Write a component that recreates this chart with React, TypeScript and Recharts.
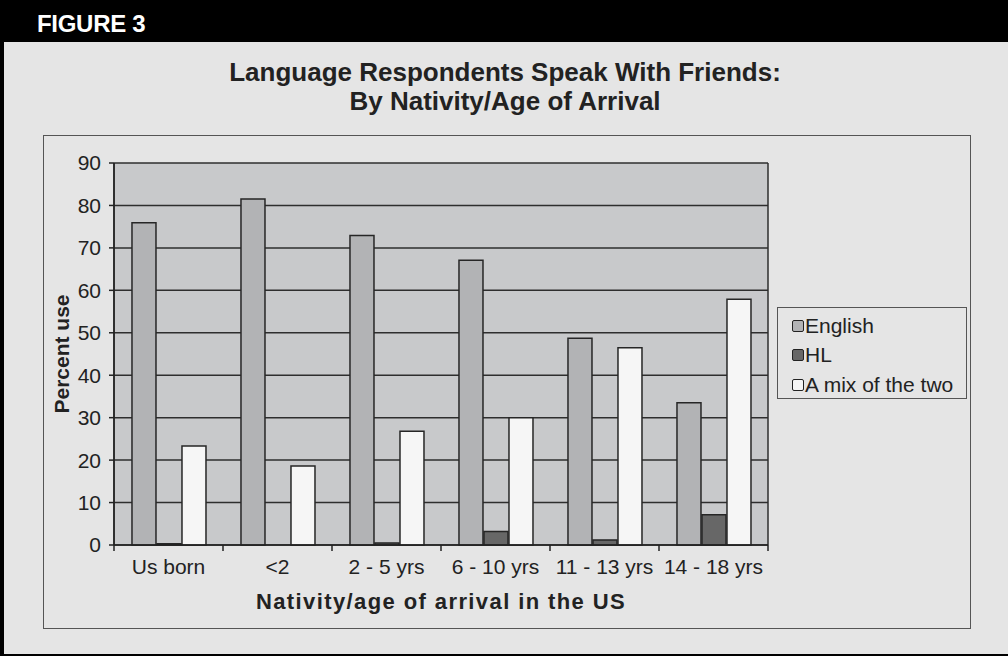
import { BarChart, Bar, XAxis, YAxis, CartesianGrid, Legend } from 'recharts';

const categories = ['Us born', '<2', '2 - 5 yrs', '6 - 10 yrs', '11 - 13 yrs', '14 - 18 yrs'];
const english = [75.9, 81.5, 72.9, 67.1, 48.7, 33.5];
const hl = [0.3, 0, 0.5, 3.2, 1.2, 7.1];
const mix = [23.3, 18.6, 26.8, 30, 46.5, 57.9];
const yTicks = [0, 10, 20, 30, 40, 50, 60, 70, 80, 90];

const series = [
    { key: 'english', name: 'English', fill: '#b2b3b5' },
    { key: 'hl', name: 'HL', fill: '#676767' },
    { key: 'mix', name: 'A mix of the two', fill: '#f6f6f6' },
];

const data = categories.map((c, i) => ({ cat: c, english: english[i], hl: hl[i], mix: mix[i] }));

const FONT = '"Liberation Sans", Arial, Helvetica, sans-serif';
const INK = '#222';

// plot box (used only for the boundary tick marks)
const PLOT_LEFT = 114;
const PLOT_RIGHT = 768;
const PLOT_BOTTOM = 545;
const BAND = (PLOT_RIGHT - PLOT_LEFT) / categories.length;

const XTick = ({ x, y, payload, index }: any) => {
    const left = x - BAND / 2;
    return (
        <g>
            <line x1={left} x2={left} y1={PLOT_BOTTOM} y2={PLOT_BOTTOM + 6} stroke={INK} strokeWidth={1.5} />
            {index === categories.length - 1 && (
                <line x1={x + BAND / 2} x2={x + BAND / 2} y1={PLOT_BOTTOM} y2={PLOT_BOTTOM + 6} stroke={INK} strokeWidth={1.5} />
            )}
            <text x={x} y={y} dy="0.71em" textAnchor="middle" fill={INK} fontSize={21} fontFamily={FONT}>
                {payload.value}
            </text>
        </g>
    );
};

const renderLegend = () => (
    <div style={{
        width: 190, height: 92, boxSizing: 'border-box', border: '1.5px solid #555',
        padding: '3px 0 0 14px', fontFamily: FONT, fontSize: 21, color: INK,
    }}>
        {series.map(s => (
            <div key={s.key} style={{ display: 'flex', alignItems: 'center', height: 29.5 }}>
                <span style={{
                    display: 'inline-block', width: 10, height: 10, background: s.fill,
                    border: '1.5px solid #222', borderRadius: 2, marginRight: 1,
                }} />
                <span>{s.name}</span>
            </div>
        ))}
    </div>
);

export default function App() {
    return (
        <div style={{ position: 'fixed', left: 0, top: 0, width: 1008, height: 656, background: '#e5e5e5', overflow: 'hidden' }}>
            <div style={{ position: 'absolute', left: 0, top: 0, width: 1008, height: 42, background: '#000' }}>
                <div style={{
                    position: 'absolute', left: 37, top: 11, color: '#fff', fontFamily: FONT,
                    fontWeight: 700, fontSize: 24, letterSpacing: -0.3, lineHeight: '26px',
                }}>FIGURE 3</div>
            </div>
            <div style={{ position: 'absolute', left: 0, top: 0, width: 4, height: 656, background: '#000' }} />
            <div style={{ position: 'absolute', left: 0, top: 654, width: 1008, height: 2, background: '#000' }} />
            <div style={{
                position: 'absolute', left: 43, top: 135, width: 928, height: 494,
                border: '1.5px solid #555', boxSizing: 'border-box',
            }} />
            <div style={{
                position: 'absolute', left: 0, top: 58, width: 1010, textAlign: 'center',
                fontFamily: FONT, fontWeight: 700, fontSize: 26, lineHeight: '29px', color: INK,
            }}>
                <div>Language Respondents Speak With Friends:</div>
                <div>By Nativity/Age of Arrival</div>
            </div>
            <div style={{ position: 'absolute', left: 0, top: 0 }}>
                <BarChart
                    width={1008}
                    height={656}
                    data={data}
                    margin={{ top: 163, left: 54, right: 240, bottom: 71 }}
                    barCategoryGap="16.5%"
                    barGap={1}
                >
                    <CartesianGrid
                        fill="#c8c9cb"
                        stroke="#2e2e2e"
                        strokeWidth={1.5}
                        verticalCoordinatesGenerator={({ offset }: any) => [offset.left, offset.left + offset.width]}
                    />
                    <XAxis
                        dataKey="cat"
                        height={40}
                        tickLine={false}
                        tickSize={6}
                        tickMargin={8}
                        axisLine={{ stroke: INK, strokeWidth: 1.5 }}
                        tick={<XTick />}
                        interval={0}
                        label={{
                            value: 'Nativity/age of arrival in the US', position: 'bottom', offset: 8,
                            style: { fontFamily: FONT, fontWeight: 700, fontSize: 22, letterSpacing: 1.4, fill: INK },
                        }}
                    />
                    <YAxis
                        width={60}
                        domain={[0, 90]}
                        ticks={yTicks}
                        interval={0}
                        tickSize={5}
                        tickMargin={8}
                        tickLine={{ stroke: INK, strokeWidth: 1.5 }}
                        axisLine={{ stroke: INK, strokeWidth: 1.5 }}
                        tick={{ fill: INK, fontSize: 21, fontFamily: FONT }}
                        label={{
                            value: 'Percent use', angle: -90, position: 'insideLeft', offset: 8,
                            style: { textAnchor: 'middle', fontFamily: FONT, fontWeight: 700, fontSize: 21, fill: INK },
                        }}
                    />
                    <Legend
                        layout="vertical"
                        align="center"
                        verticalAlign="middle"
                        content={renderLegend}
                        wrapperStyle={{ left: 777, top: 307, width: 190, height: 92 }}
                    />
                    {series.map(s => (
                        <Bar
                            key={s.key}
                            dataKey={s.key}
                            name={s.name}
                            fill={s.fill}
                            stroke="#262626"
                            strokeWidth={1.5}
                            isAnimationActive={false}
                        />
                    ))}
                </BarChart>
            </div>
        </div>
    );
}
